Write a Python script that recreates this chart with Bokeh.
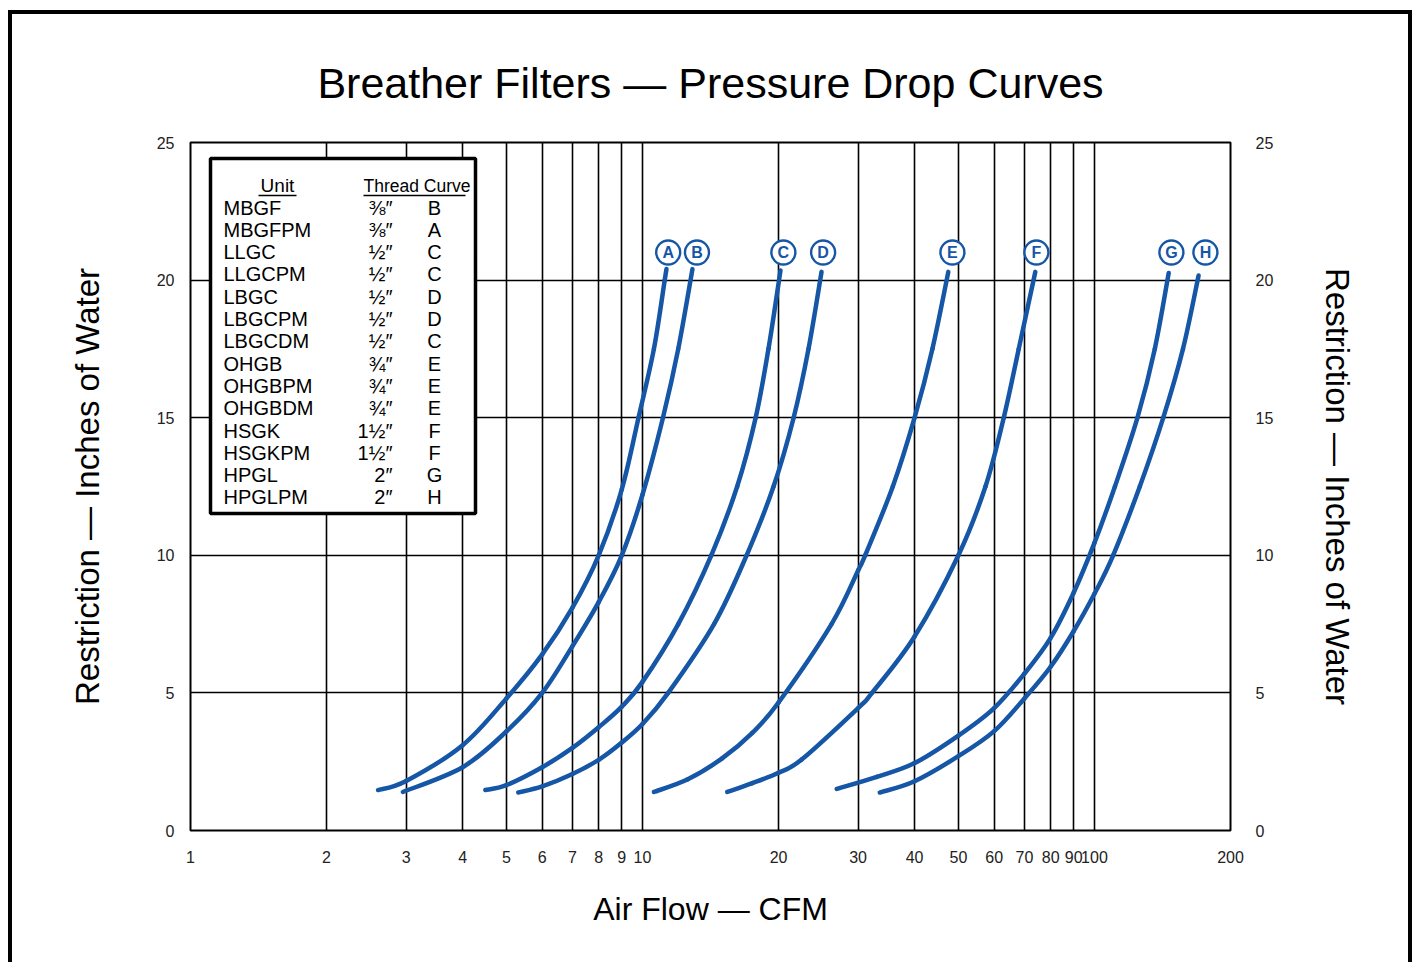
import numpy as np
from bokeh.plotting import figure
from bokeh.models import Range1d, LinearAxis, FixedTicker, ColumnDataSource
from bokeh.embed import file_html
from bokeh.resources import INLINE
from bokeh.core.properties import value

# ---------------- data ----------------
x_ticks = [1, 2, 3, 4, 5, 6, 7, 8, 9, 10, 20, 30, 40, 50, 60, 70, 80, 90, 100, 200]
y_ticks = [0, 5, 10, 15, 20, 25]

a_x = [2.60, 3.0, 4.0, 5.0, 6.0, 7.0, 8.0, 9.0, 9.8, 10.6, 11.2, 11.3]
a_y = [1.47, 1.80, 3.10, 4.80, 6.40, 8.10, 10.0, 12.4, 15.0, 17.5, 20.0, 20.4]
b_x = [2.95, 4.0, 5.0, 6.0, 7.0, 8.0, 9.0, 10.0, 11.1, 12.0, 12.9]
b_y = [1.40, 2.30, 3.60, 5.00, 6.70, 8.30, 10.0, 12.2, 15.0, 17.5, 20.4]
c_x = [4.49, 5.0, 6.0, 7.0, 8.0, 9.0, 10.0, 12.0, 14.2, 16.2, 17.8, 19.0, 20.2]
c_y = [1.47, 1.65, 2.30, 3.00, 3.75, 4.50, 5.40, 7.50, 10.0, 12.5, 15.0, 17.5, 20.35]
d_x = [5.31, 6.0, 7.0, 8.0, 9.0, 10.0, 11.4, 14.4, 17.0, 19.5, 21.6, 23.3, 24.9]
d_y = [1.38, 1.60, 2.05, 2.57, 3.20, 3.87, 5.00, 7.50, 10.0, 12.5, 15.0, 17.5, 20.3]
e_x = [10.6, 12.6, 15.0, 17.5, 20.0, 26.2, 30.0, 31.1, 35.8, 40.0, 43.8, 47.5]
e_y = [1.40, 1.86, 2.62, 3.55, 4.65, 7.50, 9.45, 10.0, 12.5, 15.0, 17.5, 20.3]
f_x = [15.4, 17.5, 20.0, 22.5, 30.0, 32.2, 40.0, 50.0, 57.4, 63.0, 68.0, 74.0]
f_y = [1.40, 1.72, 2.10, 2.58, 4.45, 5.00, 7.05, 10.0, 12.5, 15.0, 17.5, 20.3]
g_x = [26.9, 33.0, 40.0, 50.0, 60.0, 70.0, 80.0, 90.0, 100.0, 111.0, 124.5, 136.0, 146.0]
g_y = [1.51, 1.95, 2.45, 3.45, 4.45, 5.70, 7.00, 8.65, 10.45, 12.5, 15.0, 17.5, 20.26]
h_x = [33.5, 40.0, 50.0, 60.0, 70.0, 80.0, 90.0, 100.0, 110.0, 126.0, 142.0, 157.0, 170.0]
h_y = [1.38, 1.79, 2.70, 3.61, 4.80, 5.95, 7.25, 8.60, 10.0, 12.5, 15.0, 17.5, 20.17]

curve_letters = ["A", "B", "C", "D", "E", "F", "G", "H"]
label_x = [11.4, 13.2, 20.5, 25.1, 48.5, 74.4, 148.0, 176.0]
curves_x = [a_x, b_x, c_x, d_x, e_x, f_x, g_x, h_x]
curves_y = [a_y, b_y, c_y, d_y, e_y, f_y, g_y, h_y]

units = ["MBGF", "MBGFPM", "LLGC", "LLGCPM", "LBGC", "LBGCPM", "LBGCDM",
         "OHGB", "OHGBPM", "OHGBDM", "HSGK", "HSGKPM", "HPGL", "HPGLPM"]
threads = ["\u215c\u2033", "\u215c\u2033", "\u00bd\u2033", "\u00bd\u2033", "\u00bd\u2033", "\u00bd\u2033",
           "\u00bd\u2033", "\u00be\u2033", "\u00be\u2033", "\u00be\u2033", "1\u00bd\u2033",
           "1\u00bd\u2033", "2\u2033", "2\u2033"]
unit_curves = ["B", "A", "C", "C", "D", "D", "C", "E", "E", "E", "F", "F", "G", "H"]

# ---------------- layout ----------------
X_MIN, X_MAX = 1, 200
Y_MIN, Y_MAX = 0, 25
FRAME_W, FRAME_H = 1040, 688
BLUE = "#1556a6"
FONT = "Liberation Sans"


def xd(dx):
    """pixel offset from frame left -> data x (log axis)"""
    return X_MIN * 10 ** (np.log10(X_MAX / X_MIN) * dx / FRAME_W)


def yd(dy):
    """pixel offset from frame top -> data y"""
    return Y_MAX - (Y_MAX - Y_MIN) * dy / FRAME_H


p = figure(width=1404, height=952, x_axis_type="log",
           x_range=Range1d(X_MIN, X_MAX), y_range=Range1d(Y_MIN, Y_MAX),
           output_backend="svg", toolbar_location=None,
           min_border_left=178, min_border_right=186,
           min_border_top=128, min_border_bottom=136,
           background_fill_color="white", border_fill_color="white")
p.styles = {"margin-left": "8px", "margin-top": "10px",
            "border-left": "4px solid black", "border-top": "4px solid black",
            "border-right": "4px solid black"}

p.title.text = "Breather Filters \u2014 Pressure Drop Curves"
p.title.align = "center"
p.title.text_font = FONT
p.title.text_font_size = "43px"
p.title.text_font_style = "normal"
p.title.text_color = "black"
p.title.standoff = 72

p.outline_line_color = "black"
p.outline_line_width = 2

# axes
p.xaxis.ticker = FixedTicker(ticks=x_ticks)
p.xaxis.major_label_overrides = {t: str(t) for t in x_ticks}
p.yaxis.ticker = FixedTicker(ticks=y_ticks)
right = LinearAxis(ticker=FixedTicker(ticks=y_ticks))
p.add_layout(right, "right")

p.xaxis.axis_label = "Air Flow \u2014 CFM"
p.yaxis.axis_label = "Restriction \u2014 Inches of Water"
right.axis_label = "Restriction \u2014 Inches of Water"

for ax in [p.xaxis[0], p.yaxis[0], right]:
    ax.axis_line_color = None
    ax.major_tick_line_color = None
    ax.minor_tick_line_color = None
    ax.major_label_text_font = FONT
    ax.major_label_text_font_size = "16px"
    ax.major_label_text_color = "#222222"
    ax.axis_label_text_font = FONT
    ax.axis_label_text_font_size = "33px"
    ax.axis_label_text_font_style = "normal"
    ax.axis_label_text_color = "black"
p.xaxis.axis_label_text_font_size = "32px"

p.xaxis.major_label_standoff = 14
p.xaxis.axis_label_standoff = 25
p.yaxis[0].major_label_standoff = 10
p.yaxis[0].axis_label_standoff = 48
right.major_label_standoff = 19
right.axis_label_standoff = 43

# grid
p.xgrid.ticker = FixedTicker(ticks=x_ticks[1:-1])
p.ygrid.ticker = FixedTicker(ticks=y_ticks[1:-1])
for g in [p.xgrid[0], p.ygrid[0]]:
    g.grid_line_color = "black"
    g.grid_line_width = 1.6
    g.grid_line_alpha = 1.0


# curves: smooth (Catmull-Rom style cubic Bezier) through the read points,
# computed in the axis space (log10 x, y) so the screen curve is smooth
def bezier_segments(xs, ys):
    u = np.log10(np.asarray(xs, float))
    v = np.asarray(ys, float)
    n = len(u)
    up = np.concatenate([[u[0]], u, [u[-1]]])
    vp = np.concatenate([[v[0]], v, [v[-1]]])
    seg = dict(x0=[], y0=[], x1=[], y1=[], cx0=[], cy0=[], cx1=[], cy1=[])
    for i in range(n - 1):
        p0u, p0v = up[i], vp[i]
        p1u, p1v = up[i + 1], vp[i + 1]
        p2u, p2v = up[i + 2], vp[i + 2]
        p3u, p3v = up[i + 3], vp[i + 3]
        seg["x0"].append(10 ** p1u); seg["y0"].append(p1v)
        seg["x1"].append(10 ** p2u); seg["y1"].append(p2v)
        seg["cx0"].append(10 ** (p1u + (p2u - p0u) / 6)); seg["cy0"].append(p1v + (p2v - p0v) / 6)
        seg["cx1"].append(10 ** (p2u - (p3u - p1u) / 6)); seg["cy1"].append(p2v - (p3v - p1v) / 6)
    return ColumnDataSource(seg)


for cx, cy in zip(curves_x, curves_y):
    p.bezier(x0="x0", y0="y0", x1="x1", y1="y1", cx0="cx0", cy0="cy0", cx1="cx1", cy1="cy1",
             source=bezier_segments(cx, cy), line_color=BLUE, line_width=4.5, line_cap="round")

# circled curve letters
LABEL_Y = yd(110)
lab_src = ColumnDataSource(dict(x=label_x, y=[LABEL_Y] * len(label_x), t=curve_letters))
p.scatter("x", "y", source=lab_src, marker="circle", size=24,
          fill_color="white", line_color=BLUE, line_width=2.4)
p.text("x", "y", text="t", source=lab_src, text_align="center", text_baseline="middle",
       text_color=BLUE, text_font=value(FONT), text_font_size="16px", text_font_style="bold")

# legend table
p.quad(left=xd(20), right=xd(285), bottom=yd(371), top=yd(16),
       fill_color="white", line_color="black", line_width=3.5)

ROW0, ROW_STEP = 65, 22.3
rows_y = [yd(ROW0 + ROW_STEP * i) for i in range(len(units))]
tbl = ColumnDataSource(dict(ux=[xd(33)] * len(units), tx=[xd(202)] * len(units),
                            cx=[xd(244)] * len(units), y=rows_y,
                            u=units, th=threads, c=unit_curves))
common = dict(source=tbl, text_baseline="middle", text_color="black",
              text_font=value(FONT), text_font_size="20px")
p.text("ux", "y", text="u", text_align="left", **common)
p.text("tx", "y", text="th", text_align="right", **common)
p.text("cx", "y", text="c", text_align="center", **common)

p.text(x=[xd(87)], y=[yd(43)], text=["Unit"], text_align="center", text_baseline="middle",
       text_color="black", text_font=value(FONT), text_font_size="19px")
p.text(x=[xd(173)], y=[yd(43)], text=["Thread Curve"], text_align="left", text_baseline="middle",
       text_color="black", text_font=value(FONT), text_font_size="17.5px")
p.segment(x0=[xd(68), xd(173)], y0=[yd(53), yd(53)], x1=[xd(106), xd(275)], y1=[yd(53), yd(53)],
          line_color="black", line_width=1.5)

open("out.html", "w").write(file_html(p, INLINE))
